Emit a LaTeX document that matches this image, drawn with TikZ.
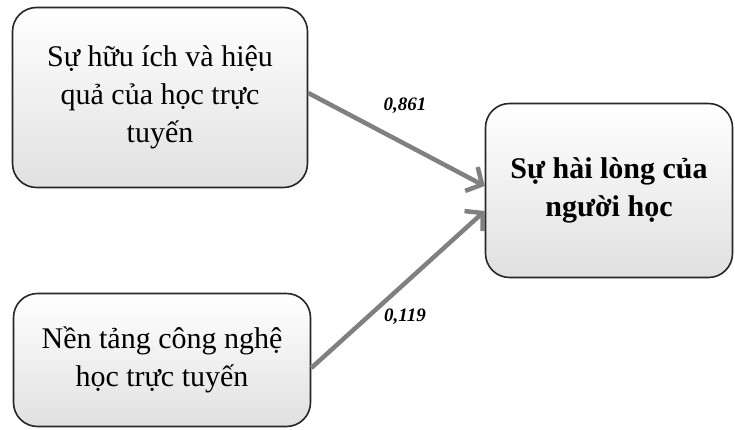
\documentclass[tikz,border=0pt]{standalone}
\usepackage{fontspec}
\setmainfont{Liberation Serif}
\usetikzlibrary{arrows.meta}
\begin{document}
\begin{tikzpicture}[x=1pt, y=-1pt,
                factor/.style={draw=black!85, line width=1.6pt, rounded corners=24pt,
                    top color=white, bottom color=black!12, inner sep=0pt, align=center,
                    font=\fontsize{30}{38}\selectfont},
                effect/.style={draw=black!50, line width=4.5pt,
                    -{Straight Barb[length=12pt, width=27pt, line width=4.5pt]}},
                weight/.style={font=\fontsize{19}{21}\selectfont\bfseries\itshape}]
                \useasboundingbox (0,0) rectangle (735,430);
                \node[factor, minimum width=295pt, minimum height=180pt] (use) at (160,97.5)
                    {Sự hữu ích và hiệu\\quả của học trực\\tuyến};
                \node[factor, minimum width=297pt, minimum height=133pt] (tech) at (162,360)
                    {Nền tảng công nghệ\\học trực tuyến};
                \node[factor, minimum width=247pt, minimum height=174pt,
                    font=\fontsize{30}{38}\selectfont\bfseries] (sat) at (609,190.5)
                    {Sự hài lòng của\\người học};
                \draw[effect] ([yshift=4.5pt]use.east) -- ([yshift=4.5pt]sat.west);
                \draw[effect] ([yshift=-8pt]tech.east) -- ([yshift=-20.5pt]sat.west);
                \node[weight] (w1) at (405,106) {0,861};
                \node[weight] (w2) at (405,317) {0,119};
            \end{tikzpicture}
\end{document}
